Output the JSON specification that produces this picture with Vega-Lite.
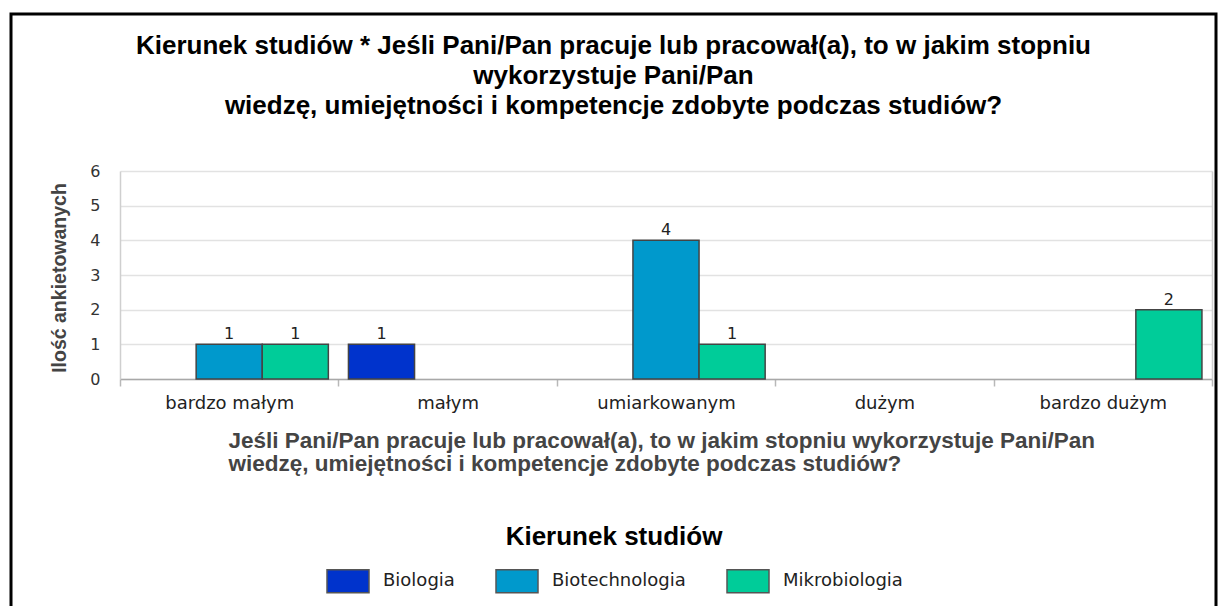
{
  "$schema": "https://vega.github.io/schema/vega-lite/v6.json",
  "width": 1205,
  "height": 595,
  "autosize": {"type": "none"},
  "padding": {"left": 11, "top": 14, "right": 3, "bottom": 0},
  "background": "white",
  "title": {
    "text": [
      "Kierunek studiów * Jeśli Pani/Pan pracuje lub pracował(a), to w jakim stopniu",
      "wykorzystuje Pani/Pan",
      "wiedzę, umiejętności i kompetencje zdobyte podczas studiów?"
    ],
    "anchor": "middle",
    "frame": "group",
    "offset": -105,
    "font": "Liberation Sans",
    "fontSize": 26,
    "fontWeight": "bold",
    "color": "#000000",
    "lineHeight": 30,
    "limit": 1200
  },
  "data": {
    "values": [
      {"kategoria": "bardzo małym", "kierunek": "Biotechnologia", "n": 1},
      {"kategoria": "bardzo małym", "kierunek": "Mikrobiologia", "n": 1},
      {"kategoria": "małym", "kierunek": "Biologia", "n": 1},
      {"kategoria": "umiarkowanym", "kierunek": "Biotechnologia", "n": 4},
      {"kategoria": "umiarkowanym", "kierunek": "Mikrobiologia", "n": 1},
      {"kategoria": "bardzo dużym", "kierunek": "Mikrobiologia", "n": 2}
    ]
  },
  "encoding": {
    "x": {
      "field": "kategoria",
      "type": "nominal",
      "sort": null,
      "scale": {
        "domain": ["bardzo małym", "małym", "umiarkowanym", "dużym", "bardzo dużym"],
        "range": [109, 1201],
        "paddingInner": 0,
        "paddingOuter": 0
      },
      "axis": {
        "orient": "bottom",
        "offset": -230,
        "labelAngle": 0,
        "domain": true,
        "domainColor": "#a8a8a8",
        "domainWidth": 1.5,
        "ticks": true,
        "tickBand": "extent",
        "tickSize": 7,
        "tickColor": "#b8b8b8",
        "tickWidth": 1.5,
        "grid": false,
        "labelFont": "DejaVu Sans",
        "labelFontSize": 18,
        "labelColor": "#222222",
        "labelPadding": 8,
        "title": [
          "Jeśli Pani/Pan pracuje lub pracował(a), to w jakim stopniu wykorzystuje Pani/Pan",
          "wiedzę, umiejętności i kompetencje zdobyte podczas studiów?"
        ],
        "titleX": 217,
        "titleY": 68,
        "titleAlign": "left",
        "titleBaseline": "alphabetic",
        "titleLineHeight": 23,
        "titleLimit": 1100,
        "titleFont": "Liberation Sans",
        "titleFontSize": 22.5,
        "titleFontWeight": "bold",
        "titleColor": "#444444"
      }
    },
    "xOffset": {
      "field": "kierunek",
      "type": "nominal",
      "scale": {
        "domain": ["Biologia", "Biotechnologia", "Mikrobiologia"],
        "paddingInner": 0,
        "paddingOuter": 0.152
      }
    },
    "y": {
      "field": "n",
      "type": "quantitative",
      "scale": {"domain": [0, 6], "range": [365, 157], "nice": false, "zero": true},
      "axis": {
        "orient": "left",
        "offset": -109,
        "values": [0, 1, 2, 3, 4, 5, 6],
        "grid": true,
        "gridColor": "#e2e2e2",
        "gridWidth": 1.5,
        "domain": true,
        "domainColor": "#cfcfcf",
        "domainWidth": 1.5,
        "ticks": false,
        "tickSize": 0,
        "labelFont": "DejaVu Sans",
        "labelFontSize": 16,
        "labelColor": "#333333",
        "labelPadding": 20,
        "title": "Ilość ankietowanych",
        "titleFont": "Liberation Sans",
        "titleFontSize": 19.5,
        "titleFontWeight": "bold",
        "titleColor": "#444444",
        "titleAngle": -90,
        "titleX": -55,
        "titleY": 263.5,
        "titleAlign": "center",
        "titleBaseline": "alphabetic"
      }
    }
  },
  "layer": [
    {
      "mark": {"type": "bar", "stroke": "#444444", "strokeWidth": 1.5, "opacity": 1},
      "encoding": {
        "color": {
          "field": "kierunek",
          "type": "nominal",
          "scale": {
            "domain": ["Biologia", "Biotechnologia", "Mikrobiologia"],
            "range": ["#0033CC", "#0099CC", "#00CC99"]
          },
          "legend": {
            "orient": "none",
            "direction": "horizontal",
            "legendX": 315,
            "legendY": 510,
            "padding": 0,
            "title": "Kierunek studiów",
            "titleLimit": 600,
            "titleAnchor": "middle",
            "titleFont": "Liberation Sans",
            "titleFontSize": 26,
            "titleFontWeight": "bold",
            "titleColor": "#000000",
            "titlePadding": 9,
            "labelFont": "DejaVu Sans",
            "labelFontSize": 18,
            "labelColor": "#222222",
            "labelOffset": 13,
            "labelLimit": 300,
            "columnPadding": 38,
            "symbolType": "M-1,-0.55L1,-0.55L1,0.55L-1,0.55Z",
            "symbolSize": 1764,
            "symbolStrokeColor": "#555555",
            "symbolStrokeWidth": 1.5,
            "symbolOpacity": 1
          }
        }
      }
    },
    {
      "mark": {
        "type": "text",
        "baseline": "bottom",
        "dy": -2,
        "font": "DejaVu Sans",
        "fontSize": 16,
        "color": "#222222"
      },
      "encoding": {
        "text": {"field": "n", "type": "quantitative"},
        "y": {
          "field": "n",
          "type": "quantitative",
          "axis": {
            "orient": "right",
            "offset": -4,
            "grid": false,
            "labels": false,
            "ticks": false,
            "title": null,
            "domain": true,
            "domainColor": "#cfcfcf",
            "domainWidth": 1.5
          }
        }
      }
    }
  ],
  "resolve": {"axis": {"y": "independent"}},
  "config": {
    "view": {"stroke": "#000000", "strokeWidth": 3}
  }
}
